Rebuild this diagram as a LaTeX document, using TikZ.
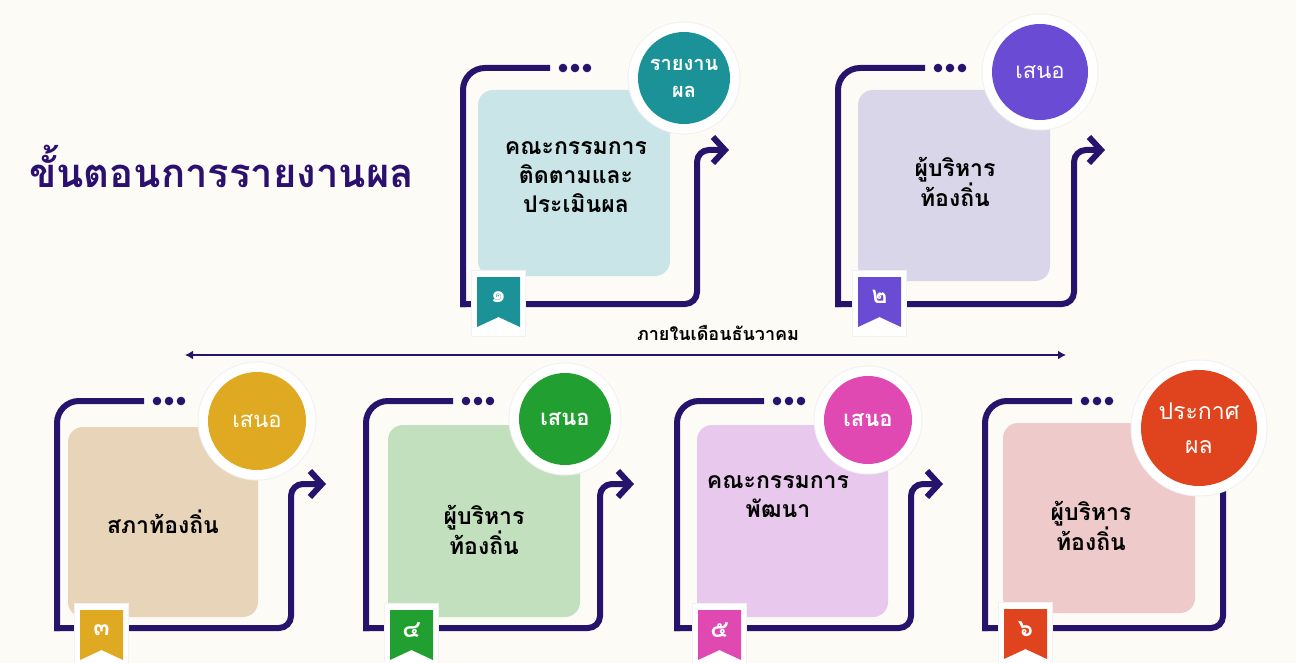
\documentclass[tikz,border=0pt]{standalone}
\usepackage{fontspec}
\newfontfamily\thai[Script=Thai]{Loma}
\usetikzlibrary{arrows.meta}
\definecolor{bg}{RGB}{252,251,246}
\definecolor{navy}{RGB}{38,20,108}
\definecolor{titlec}{RGB}{44,16,112}
\definecolor{tealc}{RGB}{26,146,152}
\definecolor{tealL}{RGB}{201,229,231}
\definecolor{purc}{RGB}{106,76,212}
\definecolor{purL}{RGB}{217,214,234}
\definecolor{goldc}{RGB}{224,169,34}
\definecolor{goldL}{RGB}{232,213,185}
\definecolor{grnc}{RGB}{33,160,49}
\definecolor{grnL}{RGB}{195,224,190}
\definecolor{magc}{RGB}{224,73,178}
\definecolor{magL}{RGB}{232,200,236}
\definecolor{redc}{RGB}{224,68,30}
\definecolor{redL}{RGB}{239,202,202}
\tikzset{
  frame/.style={draw=navy,line width=6pt},
  cardtext/.style={align=center,text=black,font=\thai\bfseries\fontsize{23}{29}\selectfont},
  badgetext/.style={align=center,text=white,font=\thai\bfseries\fontsize{20}{27}\selectfont},
  digit/.style={text=white,font=\thai\bfseries\fontsize{24}{26}\selectfont},
}
\newcommand\cardframe[6]{%
  \draw[frame,rounded corners=22pt] ({#1+87},#2) -- (#1,#2) -- (#1,{#2+#4+3});
  \draw[frame,rounded corners=12pt,-{Straight Barb[length=12pt,width=26pt]}] ({#1-3},{#2+#4}) -- ({#1+#3},{#2+#4}) -- ({#1+#3},#5) -- (#6,#5);
  \fill[navy] ({#1+100},#2) circle (4.3pt) ({#1+112},#2) circle (4.3pt) ({#1+124},#2) circle (4.3pt);
}
\newcommand\innerbox[5]{\fill[#5,rounded corners=15pt] (#1,#2) rectangle (#3,#4);}
\newcommand\badgecirc[5]{%
  \fill[black!6] (#2,#3) circle ({#4+10.5pt});
  \fill[white] (#2,#3) circle ({#4+9.5pt});
  \node[circle,fill=#5,minimum size={2*#4},inner sep=0pt] (#1) at (#2,#3) {};
}
\newcommand\ribbon[5]{%
  \fill[black!5] ({#2-6},{#3-7}) rectangle ({#2+49},{#3+60});
  \fill[white] ({#2-5},{#3-6}) rectangle ({#2+48},{#3+59});
  \fill[#4] (#2,#3) -- ({#2+43},#3) -- ({#2+43},{#3+50}) -- ({#2+21.5},{#3+40}) -- (#2,{#3+50}) -- cycle;
  \node[digit] (#1) at ({#2+21.5},{#3+20}) {#5};
}
\begin{document}
\begin{tikzpicture}[x=1pt,y=-1pt]
\useasboundingbox (0,0) rectangle (1296,663);
\fill[bg] (0,0) rectangle (1296,663);

% title
\node[anchor=west,text=titlec,font=\thai\bfseries\fontsize{40}{48}\selectfont,inner sep=0pt] (title) at (29,166) {ขั้นตอนการรายงานผล};

% timeline
\coordinate (tlL) at (185,355);
\coordinate (tlR) at (1066,355);
\draw[navy,line width=2.6pt,{Latex[length=8pt,width=9pt]}-{Latex[length=8pt,width=9pt]}] (tlL) -- (tlR);
\node[text=black,font=\thai\bfseries\fontsize{18}{22}\selectfont] (tllabel) at (718,333) {ภายในเดือนธันวาคม};

% card 1
\cardframe{463}{68}{234}{236}{150}{729}
\innerbox{478}{90}{670}{276}{tealL}
\badgecirc{b1}{684}{78}{46}{tealc}
\node[badgetext] (b1t) at (b1) {รายงาน\\ผล};
\ribbon{r1}{477}{277}{tealc}{๑}
\node[cardtext] (t1) at (576,177) {คณะกรรมการ\\ติดตามและ\\ประเมินผล};

% card 2
\cardframe{838}{68}{236}{236}{150}{1105}
\innerbox{858}{90}{1050}{281}{purL}
\badgecirc{b2}{1040}{72}{48}{purc}
\node[badgetext,font=\thai\fontsize{22}{27}\selectfont] (b2t) at (b2) {เสนอ};
\ribbon{r2}{858}{277}{purc}{๒}
\node[cardtext] (t2) at (955,182) {ผู้บริหาร\\ท้องถิ่น};

% card 3
\cardframe{57}{401}{234}{227}{484}{326}
\innerbox{68}{427}{258}{617}{goldL}
\badgecirc{b3}{257}{421}{49}{goldc}
\node[badgetext,font=\thai\fontsize{22}{27}\selectfont] (b3t) at (b3) {เสนอ};
\ribbon{r3}{80}{610}{goldc}{๓}
\node[cardtext] (t3) at (163,522) {สภาท้องถิ่น};

% card 4
\cardframe{366}{401}{234}{227}{484}{634}
\innerbox{388}{425}{580}{617}{grnL}
\badgecirc{b4}{565}{419}{46}{grnc}
\node[badgetext,font=\thai\bfseries\fontsize{22}{27}\selectfont] (b4t) at (b4) {เสนอ};
\ribbon{r4}{390}{610}{grnc}{๔}
\node[cardtext] (t4) at (484,530) {ผู้บริหาร\\ท้องถิ่น};

% card 5
\cardframe{677}{401}{234}{227}{484}{943}
\innerbox{697}{425}{888}{617}{magL}
\badgecirc{b5}{868}{420}{44}{magc}
\node[badgetext,font=\thai\bfseries\fontsize{22}{27}\selectfont] (b5t) at (b5) {เสนอ};
\ribbon{r5}{698}{610}{magc}{๕}
\node[cardtext] (t5) at (778,497) {คณะกรรมการ\\พัฒนา};

% card 6 (no arrow)
\draw[frame,rounded corners=22pt] (1072,401) -- (985,401) -- (985,631);
\draw[frame,rounded corners=12pt] (982,628) -- (1223,628) -- (1223,470);
\fill[navy] (1085,401) circle (4.3pt) (1097,401) circle (4.3pt) (1109,401) circle (4.3pt);
\innerbox{1003}{423}{1195}{613}{redL}
\badgecirc{b6}{1199}{428}{58}{redc}
\node[badgetext,font=\thai\fontsize{23}{34}\selectfont] (b6t) at (b6) {ประกาศ\\ผล};
\ribbon{r6}{1004}{609}{redc}{๖}
\node[cardtext] (t6) at (1091,526) {ผู้บริหาร\\ท้องถิ่น};
\end{tikzpicture}
\end{document}
